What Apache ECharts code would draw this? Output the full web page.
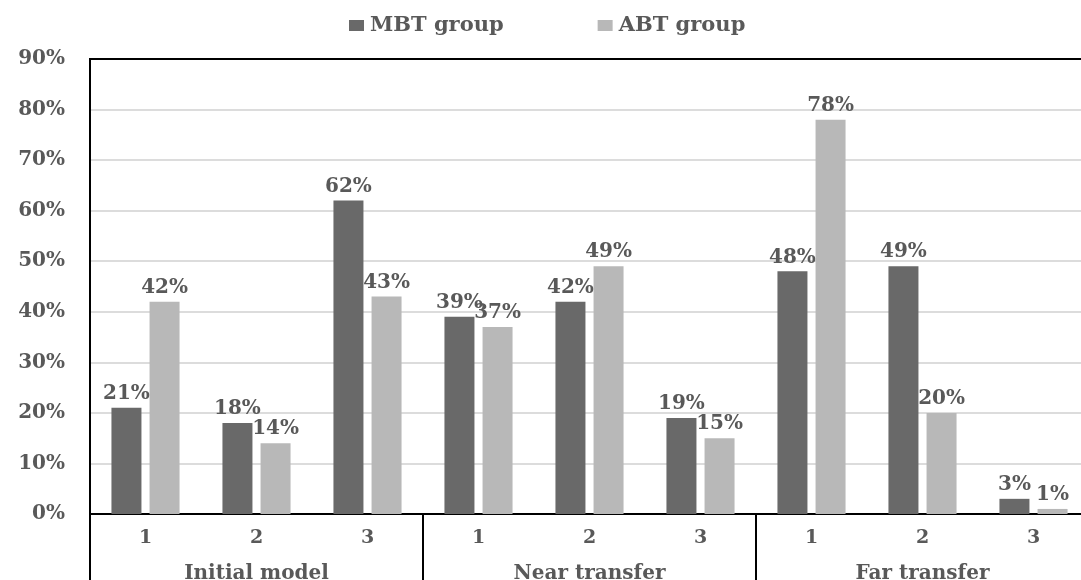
<!DOCTYPE html>
<html><head><meta charset="utf-8">
<script src="https://cdn.jsdelivr.net/npm/echarts@6/dist/echarts.min.js"></script>
<style>html,body{margin:0;padding:0;background:#fff}#c{width:1081px;height:580px}</style>
</head><body><div id="c"></div>
<script>
const categories = ['1','2','3','1','2','3','1','2','3'];
const groups = ['Initial model','Near transfer','Far transfer'];
const mbt = [21,18,62,39,42,19,48,49,3];
const abt = [42,14,43,37,49,15,78,20,1];
const yTicks = [0,10,20,30,40,50,60,70,80,90];

const FONT = 'DejaVu Serif';
const TXT = '#595959';
const chart = echarts.init(document.getElementById('c'));
const labelStyle = {show:true, position:'top', distance:4, formatter:'{c}%', color:TXT, fontFamily:FONT, fontWeight:'bold', fontSize:20};
chart.setOption({
  animation:false,
  legend:{top:10, left:344, itemWidth:15, itemHeight:11, itemGap:94,
    icon:'rect', textStyle:{color:TXT, fontFamily:FONT, fontWeight:'bold', fontSize:21, padding:[0,0,0,1]}},
  grid:{left:90, top:59, width:999, bottom:66, outerBoundsMode:'none', containLabel:false,
    show:true, borderColor:'#000', borderWidth:2},
  xAxis:[
    {type:'category', data:categories, position:'bottom',
     axisLine:{show:true, lineStyle:{color:'#000', width:2}}, axisTick:{show:false},
     axisLabel:{margin:15, color:TXT, fontFamily:FONT, fontWeight:'bold', fontSize:19, interval:0}},
    {type:'category', data:groups, position:'bottom',
     axisLine:{show:false}, axisTick:{show:true, length:66, lineStyle:{color:'#000', width:2}},
     axisLabel:{margin:50, color:TXT, fontFamily:FONT, fontWeight:'bold', fontSize:20, interval:0}}
  ],
  yAxis:{type:'value', min:yTicks[0], max:yTicks[yTicks.length-1], interval:10,
    axisLine:{show:true, lineStyle:{color:'#000', width:2}}, axisTick:{show:false},
    splitLine:{show:true, lineStyle:{color:['#dcdcdc','#dcdcdc','#dcdcdc','#dcdcdc','#dcdcdc','#dcdcdc','#dcdcdc','#dcdcdc','#dcdcdc','#000'], width:2}},
    axisLabel:{margin:25, formatter:'{value}%', color:TXT, fontFamily:FONT, fontWeight:'bold', fontSize:20}},
  series:[
    {name:'MBT group', type:'bar', data:mbt, barWidth:30, barGap:'27%', itemStyle:{color:'#696969'}, label:labelStyle},
    {name:'ABT group', type:'bar', data:abt, barWidth:30, barGap:'27%', itemStyle:{color:'#b8b8b8'}, label:labelStyle}
  ]
});
</script></body></html>
